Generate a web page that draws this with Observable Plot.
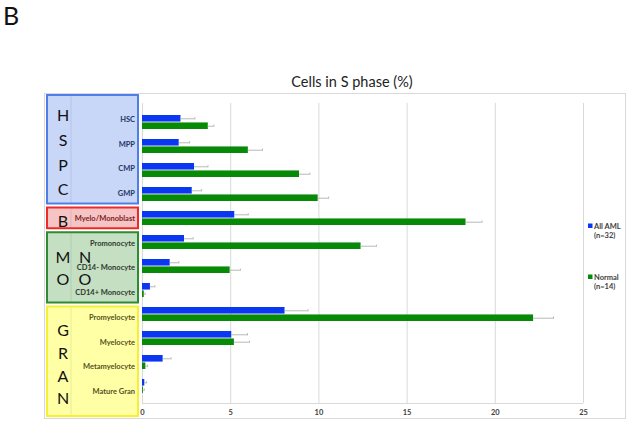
<!DOCTYPE html>
<html><head><meta charset="utf-8">
<script src="https://cdn.jsdelivr.net/npm/d3@7"></script>
<script src="https://cdn.jsdelivr.net/npm/@observablehq/plot@0.6"></script>
<style>
body{margin:0;background:#fff;}
#chart{position:relative;width:632px;height:425px;}
</style></head><body><div id="chart"></div>
<script>
// ---- data ----
const categories = ["HSC","MPP","CMP","GMP","Myelo/Monoblast","Promonocyte","CD14- Monocyte","CD14+ Monocyte","Promyelocyte","Myelocyte","Metamyelocyte","Mature Gran"];
const amlValues    = [2.18, 2.08, 2.95, 2.82, 5.23, 2.38, 1.57, 0.45, 8.08, 5.06, 1.17, 0.13];
const amlErrors    = [0.79, 0.59, 0.76, 0.53, 0.76, 0.49, 0.49, 0.25, 1.31, 0.89, 0.45, 0.10];
const normalValues = [3.73, 6.00, 8.90, 9.96, 18.34, 12.39, 4.97, 0.10, 22.17, 5.21, 0.19, 0.05];
const normalErrors = [0.32, 0.80, 0.59, 0.59, 0.91, 0.87, 0.58, 0.05, 1.13, 0.85, 0.10, 0.05];
const seriesNames  = ["All AML", "Normal"];
const seriesNs     = ["(n=32)", "(n=14)"];
const groupNames   = ["HSPC","B","MONO","GRAN"];
const groupSizes   = [4, 1, 3, 4];
const groupLetters = [[["H"],["S"],["P"],["C"]], [["B"]], [["M","N"],["O","O"]], [["G"],["R"],["A"],["N"]]];
const xTicks = [0, 5, 10, 15, 20, 25];
const titleText = "Cells in S phase (%)";
const panelLetter = "B";

// ---- styles ----
const seriesColors = ["#0b36f2", "#078a07"];
const groupFill   = ["#c8d6f8", "#f6c4c4", "#c4dfc1", "#ffffa6"];
const groupStroke = ["#4e7ee6", "#ec2a2a", "#2f8a33", "#f7f030"];
const groupText   = ["#1f3566", "#7d1c1c", "#2d3a2d", "#55521c"];
const letterSpacing = [24.7, 0, 22, 22.7];
const letterShift = [2.5, 2.5, 0.5, 2.5];

const W = 632, H = 425, mT = 106, mB = 22, mL = 142, mR = 49;
const padIn = 0.4, padOut = 0.2;
const step = (H - mT - mB) / (categories.length - padIn + 2 * padOut);
const bw = step * (1 - padIn);

const amlRows = categories.map((c, i) => ({category: c, value: amlValues[i], err: amlErrors[i]}));
const normalRows = categories.map((c, i) => ({category: c, value: normalValues[i], err: normalErrors[i]}));
const groupOf = [];
groupSizes.forEach((n, g) => { for (let k = 0; k < n; k++) groupOf.push(g); });
const labelColor = new Map(categories.map((c, i) => [c, groupText[groupOf[i]]]));

const errColor = "#a6a6a6";
const cap = 1.6;

const plot = Plot.plot({
  width: W, height: H,
  marginTop: mT, marginBottom: mB, marginLeft: mL, marginRight: mR,
  style: {fontFamily: "Lato, 'Open Sans', sans-serif", background: "transparent", overflow: "visible"},
  x: {domain: [0, 25], axis: null},
  y: {domain: categories, paddingInner: padIn, paddingOuter: padOut, axis: null},
  color: {type: "identity"},
  marks: [
    Plot.frame({stroke: "#d9d9d9", insetTop: -13, insetRight: -42, insetBottom: -15, insetLeft: -98}),
    Plot.ruleX(xTicks, {stroke: "#d9d9d9", strokeWidth: 1, insetTop: -3}),
    Plot.barX(amlRows, {y: "category", x: "value", fill: seriesColors[0], insetBottom: bw / 2}),
    Plot.barX(normalRows, {y: "category", x: "value", fill: seriesColors[1], insetTop: bw / 2}),
    Plot.ruleY(amlRows, {y: "category", x1: "value", x2: d => d.value + d.err, stroke: errColor, strokeWidth: 0.8, dy: -bw / 4}),
    Plot.ruleY(normalRows, {y: "category", x1: "value", x2: d => d.value + d.err, stroke: errColor, strokeWidth: 0.8, dy: bw / 4}),
    Plot.tickX(amlRows, {y: "category", x: d => d.value + d.err, stroke: errColor, strokeWidth: 0.8, insetTop: bw / 4 - cap, insetBottom: 3 * bw / 4 - cap}),
    Plot.tickX(normalRows, {y: "category", x: d => d.value + d.err, stroke: errColor, strokeWidth: 0.8, insetTop: 3 * bw / 4 - cap, insetBottom: bw / 4 - cap}),
    Plot.text(xTicks, {x: d => d, frameAnchor: "bottom", dy: 11, fontSize: 7.5, fontWeight: "bold", fill: "#404040"})
  ]
});
document.getElementById("chart").appendChild(plot);

// ---- annotations (group boxes, labels, legend, title) ----
const svg = d3.select(plot);
const band = d3.scaleBand().domain(categories).range([mT, H - mB]).paddingInner(padIn).paddingOuter(padOut);
const xs = d3.scaleLinear().domain([0, 25]).range([mL, W - mR]);

// x baseline
svg.append("line").attr("x1", xs(0)).attr("x2", xs(25)).attr("y1", H - mB + 0.5).attr("y2", H - mB + 0.5)
  .attr("stroke", "#d9d9d9");

const ann = svg.append("g").attr("text-anchor", "start");
let idx = 0;
groupSizes.forEach((n, g) => {
  const first = categories[idx], last = categories[idx + n - 1];
  let top = band(first) - step * padIn / 2 + 2.5;
  let bottom = band(last) + bw + step * padIn / 2 - 1.5;
  if (g === 0) top = band(first) - step * padIn / 2 - 11;
  if (g === groupSizes.length - 1) bottom = H - mB + 13;
  ann.append("rect").attr("x", 47).attr("y", top).attr("width", 91).attr("height", bottom - top)
    .attr("fill", groupFill[g]).attr("stroke", groupStroke[g]).attr("stroke-width", 2);
  ann.append("line").attr("x1", 71).attr("x2", 71).attr("y1", top + 1).attr("y2", bottom - 1)
    .attr("stroke", "rgba(0,0,0,0.12)").attr("stroke-width", 0.7);
  const lines = groupLetters[g];
  const mid = (top + bottom) / 2 + letterShift[g];
  lines.forEach((row, r) => {
    const y = mid + (r - (lines.length - 1) / 2) * letterSpacing[g];
    row.forEach((ch, c) => {
      ann.append("text").attr("x", 63 + c * 22).attr("y", y).attr("text-anchor", "middle")
        .attr("dominant-baseline", "central").attr("font-size", 16).attr("fill", "#111").text(ch);
    });
  });
  idx += n;
});

// category labels
categories.forEach(c => {
  ann.append("text").attr("x", mL - 7).attr("y", band(c) + bw / 2 + 1)
    .attr("text-anchor", "end").attr("dominant-baseline", "central")
    .attr("font-size", 7.5).attr("font-weight", "bold").attr("fill", labelColor.get(c)).text(c);
});

// legend
const legY = [226, 277];
seriesNames.forEach((s, i) => {
  ann.append("rect").attr("x", 588).attr("y", legY[i] - 2.5).attr("width", 4.5).attr("height", 4.5).attr("fill", seriesColors[i]);
  ann.append("text").attr("x", 594).attr("y", legY[i] + 3).attr("text-anchor", "start").attr("font-size", 7.5).attr("font-weight", "bold").attr("fill", "#404040").text(s);
  ann.append("text").attr("x", 594).attr("y", legY[i] + 12).attr("text-anchor", "start").attr("font-size", 7.5).attr("font-weight", "bold").attr("fill", "#404040").text(seriesNs[i]);
});

// title and panel letter
ann.append("text").attr("x", 352).attr("y", 87).attr("text-anchor", "middle").attr("font-size", 14.5).attr("fill", "#222").text(titleText);
ann.append("text").attr("x", 3).attr("y", 25).attr("text-anchor", "start").attr("font-size", 25).attr("fill", "#111").text(panelLetter);
</script>
</body></html>
